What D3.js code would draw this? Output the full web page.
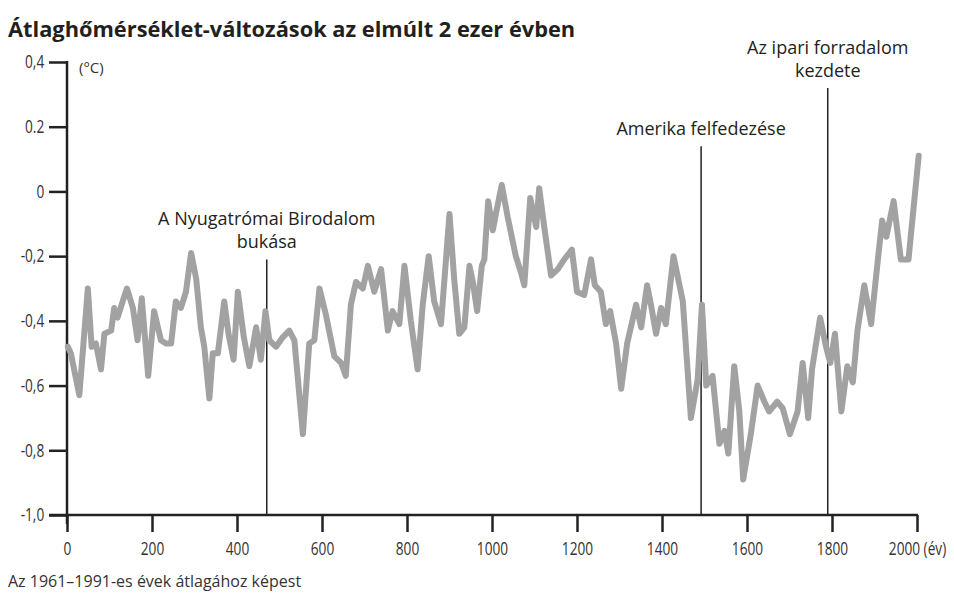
<!DOCTYPE html>
<html>
<head>
<meta charset="utf-8">
<script src="https://cdn.jsdelivr.net/npm/d3@7"></script>
<style>
    body { margin: 0; background: #fff; }
    text { font-family: "Open Sans", sans-serif; fill: #231f20; }
    .tick text { font-size: 18px; fill: #333; }
</style>
</head>
<body>
<svg id="chart" width="954" height="593"></svg>
<script>
// average temperature anomaly (year, °C)
var years = [2, 9, 29, 49, 58, 68, 80, 88, 104, 111, 119, 131, 141, 155, 166, 176, 184, 191, 205, 221,
    233, 245, 256, 268, 280, 292, 304, 315, 323, 335, 343, 355, 370, 380, 392, 402, 416, 429, 445, 456,
    467, 476, 492, 508, 523, 535, 555, 570, 582, 594, 609, 629, 645, 656, 668, 680, 696, 708, 723, 739,
    755, 766, 782, 794, 809, 825, 837, 851, 864, 880, 890, 900, 911, 923, 935, 947, 955, 965, 976, 982,
    991, 1002, 1009, 1023, 1037, 1056, 1068, 1076, 1090, 1104, 1111, 1123, 1139, 1155, 1170, 1188, 1200, 1217, 1233, 1242,
    1256, 1268, 1278, 1292, 1304, 1318, 1339, 1351, 1365, 1374, 1386, 1398, 1409, 1427, 1449, 1468, 1484, 1494, 1504, 1519,
    1535, 1547, 1556, 1570, 1582, 1591, 1609, 1625, 1641, 1652, 1671, 1684, 1701, 1719, 1731, 1744, 1753, 1772, 1786, 1796,
    1807, 1822, 1836, 1849, 1860, 1876, 1892, 1908, 1918, 1928, 1945, 1962, 1980, 2004];
var temps = [-0.48, -0.50, -0.63, -0.30, -0.48, -0.47, -0.55, -0.44, -0.43, -0.36, -0.39, -0.34, -0.30, -0.36, -0.46, -0.33, -0.46, -0.57, -0.37, -0.46,
    -0.47, -0.47, -0.34, -0.36, -0.31, -0.19, -0.27, -0.42, -0.48, -0.64, -0.50, -0.50, -0.34, -0.44, -0.52, -0.31, -0.45, -0.54, -0.42, -0.52,
    -0.37, -0.46, -0.48, -0.45, -0.43, -0.46, -0.75, -0.47, -0.46, -0.30, -0.38, -0.51, -0.53, -0.57, -0.35, -0.28, -0.30, -0.23, -0.31, -0.24,
    -0.43, -0.37, -0.41, -0.23, -0.40, -0.55, -0.35, -0.20, -0.34, -0.41, -0.24, -0.07, -0.27, -0.44, -0.42, -0.23, -0.28, -0.37, -0.23, -0.21,
    -0.03, -0.12, -0.07, 0.02, -0.08, -0.20, -0.25, -0.29, -0.02, -0.11, 0.01, -0.11, -0.26, -0.24, -0.21, -0.18, -0.31, -0.32, -0.21, -0.29,
    -0.31, -0.41, -0.37, -0.47, -0.61, -0.47, -0.35, -0.42, -0.29, -0.35, -0.44, -0.36, -0.41, -0.20, -0.34, -0.70, -0.58, -0.35, -0.60, -0.57,
    -0.78, -0.74, -0.81, -0.54, -0.68, -0.89, -0.75, -0.60, -0.65, -0.68, -0.65, -0.67, -0.75, -0.68, -0.53, -0.70, -0.55, -0.39, -0.48, -0.53,
    -0.44, -0.68, -0.54, -0.59, -0.43, -0.29, -0.41, -0.21, -0.09, -0.14, -0.03, -0.21, -0.21, 0.11];

var xTicks = [0, 200, 400, 600, 800, 1000, 1200, 1400, 1600, 1800, 2000];
var xTickLabels = ["0", "200", "400", "600", "800", "1000", "1200", "1400", "1600", "1800", "2000 (év)"];
var yTicks = [0.4, 0.2, 0, -0.2, -0.4, -0.6, -0.8, -1.0];
var yTickLabels = ["0,4", "0.2", "0", "-0,2", "-0,4", "-0,6", "-0,8", "-1,0"];

var eventYears = [470, 1492, 1790];
var eventNames = [["A Nyugatrómai Birodalom", "bukása"], ["Amerika felfedezése"], ["Az ipari forradalom", "kezdete"]];

var svg = d3.select('#chart');

var x = d3.scaleLinear().domain([0, 2000]).range([67, 917]),
    y = d3.scaleLinear().domain([-1, 0.4]).range([515, 62]);

var squeeze = 0.76; // the original lettering is a narrow face

// title + footnote
svg.append('text').attr('x', 8).attr('y', 37)
    .style('font-size', '21.8px').style('font-weight', 'bold')
    .text('Átlaghőmérséklet-változások az elmúlt 2 ezer évben');
svg.append('text').attr('x', 8).attr('y', 587)
    .style('font-size', '16px').style('fill', '#333')
    .text('Az 1961–1991-es évek átlagához képest');
svg.append('text').attr('x', 79).attr('y', 73)
    .style('font-size', '15px').style('fill', '#333')
    .text('(°C)');

// axes
var yAxis = svg.append('g').attr('transform', 'translate(67,0)')
    .call(d3.axisLeft(y).tickValues(yTicks).tickSize(18).tickPadding(12)
        .tickFormat(function (d, i) { return yTickLabels[i]; }));
var xAxis = svg.append('g').attr('transform', 'translate(0,515)')
    .call(d3.axisBottom(x).tickValues(xTicks).tickSize(17).tickPadding(10)
        .tickFormat(function (d, i) { return xTickLabels[i]; }));
yAxis.select('.domain').remove();
xAxis.select('.domain').remove();
svg.selectAll('.tick line').attr('stroke', '#222').attr('stroke-width', 2.5);
svg.selectAll('.tick text').attr('transform', 'scale(' + squeeze + ',1)');

svg.append('line').attr('x1', 67).attr('x2', 67).attr('y1', y(0.4) - 1).attr('y2', 524)
    .attr('stroke', '#222').attr('stroke-width', 2.5);
svg.append('line').attr('x1', 49).attr('x2', x(2000) + 1).attr('y1', y(-1)).attr('y2', y(-1))
    .attr('stroke', '#222').attr('stroke-width', 2.5);

// historical events: vertical marker + label above it
var eventTop = [-0.21, 0.14, 0.32]; // where each marker line starts, in °C
var ev = svg.selectAll('g.event').data(eventYears).enter().append('g').attr('class', 'event');
ev.append('line')
    .attr('x1', function (d) { return x(d); })
    .attr('x2', function (d) { return x(d); })
    .attr('y1', function (d, i) { return y(eventTop[i]); })
    .attr('y2', y(-1))
    .attr('stroke', '#222').attr('stroke-width', 1.5);
ev.each(function (d, i) {
    var lines = eventNames[i];
    var g = d3.select(this);
    lines.forEach(function (t, j) {
        g.append('text')
            .attr('x', x(d))
            .attr('y', y(eventTop[i]) - 11 - (lines.length - 1 - j) * 23)
            .attr('text-anchor', 'middle')
            .style('font-size', '18px')
            .text(t);
    });
});

// temperature line
var pts = years.map(function (yr, i) { return [yr, temps[i]]; });
svg.append('path').datum(pts)
    .attr('fill', 'none')
    .attr('stroke', '#a2a2a2')
    .attr('stroke-width', 6)
    .attr('stroke-linejoin', 'round')
    .attr('stroke-linecap', 'round')
    .attr('d', d3.line().x(function (d) { return x(d[0]); }).y(function (d) { return y(d[1]); }));
</script>
</body>
</html>
